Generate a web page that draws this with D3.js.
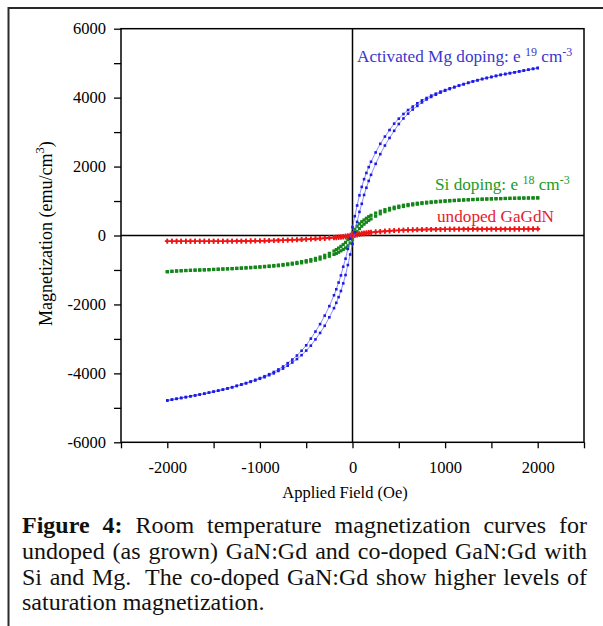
<!DOCTYPE html>
<html>
<head>
<meta charset="utf-8">
<script src="https://cdn.jsdelivr.net/npm/d3@7/dist/d3.min.js"></script>
<style>
  html, body { margin: 0; padding: 0; background: #fff; }
  svg { display: block; }
  svg text { font-family: "Liberation Serif", "Times New Roman", Times, serif; }
</style>
</head>
<body>
<svg id="chart" width="603" height="626"></svg>
<script>
// Applied field (Oe) at which each point was measured
const fieldOe = [
  -2000,-1950,-1900,-1850,-1800,-1750,-1700,-1650,-1600,-1550,
  -1500,-1450,-1400,-1350,-1300,-1250,-1200,-1150,-1100,-1050,
  -1000,-950,-900,-850,-800,-750,-700,-650,-600,-550,
  -500,-450,-400,-350,-300,-250,-200,
  -175,-150,-125,-100,-75,-50,-25,0,25,50,75,100,125,150,175,
  200,250,300,350,400,450,500,550,600,650,
  700,750,800,850,900,950,1000,1050,1100,1150,
  1200,1250,1300,1350,1400,1450,1500,1550,1600,1650,
  1700,1750,1800,1850,1900,1950,2000
];

// Activated Mg doping, decreasing-field and increasing-field branches (emu/cm3)
const mgDown = [
  -4787,-4762,-4738,-4713,-4689,-4664,-4639,-4615,-4590,-4560,
  -4529,-4499,-4470,-4435,-4400,-4360,-4319,-4280,-4234,-4186,
  -4137,-4083,-4024,-3960,-3886,-3802,-3704,-3600,-3482,-3344,
  -3186,-2992,-2788,-2571,-2325,-2049,-1734,
  -1560,-1365,-1158,-906,-673,-389,-94,245,560,870,1165,1410,1634,1815,1984,
  2140,2410,2660,2870,3060,3245,3390,3525,3640,3740,
  3835,3920,3990,4060,4115,4175,4220,4270,4312,4355,
  4395,4434,4473,4508,4542,4572,4602,4630,4660,4685,
  4710,4735,4760,4785,4810,4835,4860
];
const mgUp = [
  -4787,-4762,-4738,-4713,-4689,-4664,-4639,-4615,-4590,-4560,
  -4533,-4503,-4474,-4440,-4406,-4367,-4329,-4290,-4247,-4206,
  -4157,-4112,-4053,-3999,-3930,-3861,-3777,-3684,-3585,-3472,
  -3339,-3196,-3014,-2827,-2620,-2374,-2108,
  -1954,-1788,-1610,-1389,-1147,-857,-551,-245,95,395,685,920,1176,1385,1584,
  1760,2080,2360,2610,2830,3038,3235,3395,3535,3655,
  3760,3860,3945,4020,4085,4145,4200,4250,4298,4345,
  4385,4426,4467,4502,4538,4568,4598,4630,4660,4685,
  4710,4735,4760,4785,4810,4835,4860
];

// Si doping branches (emu/cm3)
const siDown = [
  -1050,-1040,-1030,-1022,-1016,-1011,-1006,-1001,-996,-991,
  -984,-978,-971,-965,-958,-951,-943,-935,-926,-917,
  -907,-896,-884,-871,-857,-841,-823,-803,-781,-757,
  -730,-699,-664,-625,-575,-518,-450,
  -410,-365,-315,-260,-200,-120,-30,80,180,270,340,400,450,500,545,
  585,650,705,750,788,822,852,878,900,920,
  937,952,965,977,988,998,1007,1015,1022,1029,
  1035,1041,1047,1052,1057,1061,1065,1069,1072,1075,
  1078,1081,1084,1086,1088,1090,1092
];
const siUp = [
  -1050,-1040,-1030,-1022,-1016,-1011,-1006,-1001,-996,-991,
  -986,-980,-975,-969,-964,-957,-951,-943,-936,-927,
  -919,-910,-900,-889,-877,-863,-847,-831,-813,-793,
  -770,-745,-716,-685,-645,-602,-550,
  -520,-485,-445,-405,-360,-300,-220,-120,0,110,200,270,330,385,435,
  480,560,630,690,738,778,812,842,866,888,
  908,926,942,956,969,981,992,1002,1011,1019,
  1027,1034,1040,1046,1051,1056,1061,1066,1070,1074,
  1078,1081,1084,1086,1088,1090,1092
];

// Undoped GaGdN branches (emu/cm3)
const undopedDown = [
  -165,-165,-166,-166,-166,-167,-167,-167,-167,-167,
  -167,-166,-166,-165,-165,-164,-163,-162,-160,-158,
  -156,-153,-150,-147,-143,-139,-133,-128,-121,-115,
  -107,-100,-92,-83,-74,-64,-53,
  -47,-40,-33,-25,-15,-4,10,25,36,46,56,65,74,82,90,
  97,110,121,131,139,146,153,158,163,166,
  170,172,175,177,179,180,181,182,183,183,
  184,184,185,185,185,186,186,186,187,187,
  187,188,188,188,189,189,190
];
const undopedUp = [
  -165,-165,-166,-166,-166,-167,-167,-167,-167,-167,
  -167,-166,-166,-165,-165,-164,-163,-162,-160,-158,
  -156,-153,-150,-147,-143,-139,-135,-130,-125,-119,
  -113,-106,-100,-93,-86,-78,-69,
  -65,-60,-55,-49,-43,-36,-26,-15,0,14,28,41,52,62,72,
  81,96,109,121,131,140,147,154,159,164,
  168,172,175,177,179,180,181,182,183,183,
  184,184,185,185,185,186,186,186,187,187,
  187,188,188,188,189,189,190
];

// Axis ticks
const xTicks = [-2500,-2000,-1500,-1000,-500,0,500,1000,1500,2000,2500];
const xTickLabels = ["", "-2000", "", "-1000", "", "0", "", "1000", "", "2000", ""];
const yTicks = [-6000,-5000,-4000,-3000,-2000,-1000,0,1000,2000,3000,4000,5000,6000];
const yTickLabels = ["-6000","","-4000","","-2000","","0","","2000","","4000","","6000"];

const xTitle = "Applied Field (Oe)";
const yTitle = ["Magnetization (emu/cm", "3", ")"];

const captionLines = [
  "Figure 4: Room temperature magnetization curves for",
  "undoped (as grown) GaN:Gd and co-doped GaN:Gd with",
  "Si and Mg.  The co-doped GaN:Gd show higher levels of",
  "saturation magnetization."
];
const captionBoldWords = 2;

const svg = d3.select("#chart");
svg.append("rect").attr("width", 603).attr("height", 626).attr("fill", "#fff");

// outer frame of the figure box
svg.append("rect")
  .attr("x", 8.5).attr("y", 8)
  .attr("width", 640).attr("height", 700)
  .attr("fill", "none").attr("stroke", "#2a2a2a").attr("stroke-width", 2);

const plot = { left: 121, right: 584, top: 28.7, bottom: 442.3 };
const x = d3.scaleLinear().domain([-2500, 2500]).range([plot.left, plot.right]);
const y = d3.scaleLinear().domain([-6000, 6000]).range([plot.bottom, plot.top]);

// axes
const xAxis = svg.append("g")
  .attr("transform", `translate(0,${plot.bottom})`)
  .call(d3.axisBottom(x).tickValues(xTicks)
    .tickFormat((d, i) => xTickLabels[i]).tickSize(6));
xAxis.attr("font-family", null).attr("font-size", null);
xAxis.select(".domain").remove();
xAxis.selectAll("line").attr("stroke", "#000").attr("stroke-width", 1.3);
xAxis.selectAll("text")
  .attr("y", 31).attr("dy", 0)
  .style("font-size", "16.5px").attr("fill", "#000");

const yAxis = svg.append("g")
  .attr("transform", `translate(${plot.left},0)`)
  .call(d3.axisLeft(y).tickValues(yTicks)
    .tickFormat((d, i) => yTickLabels[i]).tickSize(7).tickPadding(8));
yAxis.attr("font-family", null).attr("font-size", null);
yAxis.select(".domain").remove();
yAxis.selectAll("line").attr("stroke", "#000").attr("stroke-width", 1.3);
yAxis.selectAll("text")
  .style("font-size", "16.5px").attr("fill", "#000");

// plot frame and zero lines
svg.append("rect")
  .attr("x", plot.left).attr("y", plot.top)
  .attr("width", plot.right - plot.left).attr("height", plot.bottom - plot.top)
  .attr("fill", "none").attr("stroke", "#000").attr("stroke-width", 1.5);
svg.append("line")
  .attr("x1", x(0)).attr("x2", x(0)).attr("y1", plot.top).attr("y2", plot.bottom)
  .attr("stroke", "#000").attr("stroke-width", 1.5);
svg.append("line")
  .attr("x1", plot.left).attr("x2", plot.right).attr("y1", y(0)).attr("y2", y(0))
  .attr("stroke", "#000").attr("stroke-width", 1.5);

// series
const branches = (a, b) => [a, b].map(vals => fieldOe.map((h, i) => ({ h, m: vals[i] })));
const series = [
  { name: "si", data: branches(siDown, siUp), color: "#14861a", marker: "square", size: 3.2, line: false },
  { name: "undoped", data: branches(undopedDown, undopedUp), color: "#f01414", marker: "cross", size: 13, line: false },
  { name: "mg", data: branches(mgDown, mgUp), color: "#1c1ce6", marker: "square", size: 2.6, line: true }
];

const lineGen = d3.line().x(d => x(d.h)).y(d => y(d.m));

series.forEach(s => {
  const g = svg.append("g").attr("class", "series-" + s.name);
  s.data.forEach(branch => {
    if (s.line) {
      g.append("path").datum(branch)
        .attr("d", lineGen)
        .attr("fill", "none").attr("stroke", "#5c5cff").attr("stroke-width", 0.7);
    }
    if (s.marker === "square") {
      g.selectAll(null).data(branch).enter().append("rect")
        .attr("x", d => x(d.h) - s.size / 2)
        .attr("y", d => y(d.m) - s.size / 2)
        .attr("width", s.size).attr("height", s.size)
        .attr("fill", s.color);
    } else {
      const sym = d3.symbol().type(d3.symbolCross).size(s.size);
      g.selectAll(null).data(branch).enter().append("path")
        .attr("d", sym)
        .attr("transform", d => `translate(${x(d.h)},${y(d.m)})`)
        .attr("fill", s.color);
    }
  });
});

// series labels
function seriesLabel(xPos, yPos, color, parts) {
  const t = svg.append("text")
    .attr("x", xPos).attr("y", yPos)
    .style("font-size", "17.2px").attr("fill", color);
  parts.forEach(p => {
    const ts = t.append("tspan").text(p.t);
    if (p.sup) ts.style("font-size", "12px").attr("baseline-shift", "6");
  });
}
seriesLabel(357, 62, "#3a36cc", [
  { t: "Activated Mg doping: e " }, { t: "19", sup: true }, { t: " cm" }, { t: "-3", sup: true }
]);
seriesLabel(435, 190, "#239a23", [
  { t: "Si doping: e " }, { t: "18", sup: true }, { t: " cm" }, { t: "-3", sup: true }
]);
seriesLabel(437, 221.5, "#e8202c", [{ t: "undoped GaGdN" }]);

// axis titles
svg.append("text")
  .attr("x", 345).attr("y", 498)
  .attr("text-anchor", "middle")
  .style("font-size", "16.5px").attr("fill", "#000")
  .text(xTitle);

const yt = svg.append("text")
  .attr("transform", "translate(52,326) rotate(-90)")
  .style("font-size", "18px").attr("fill", "#000");
yt.append("tspan").text(yTitle[0]);
yt.append("tspan").text(yTitle[1]).style("font-size", "12.5px").attr("baseline-shift", "8");
yt.append("tspan").text(yTitle[2]);

// caption, justified between the margins except on its last line
const cap = { left: 22, right: 587, top: 533, lead: 25.8, size: 24 };
const measure = svg.append("text").style("font-size", cap.size + "px")
  .attr("visibility", "hidden");
function widthOf(str, bold) {
  measure.style("font-weight", bold ? "bold" : "normal").text(str);
  return measure.node().getComputedTextLength();
}
const spaceW = widthOf("a a", false) - widthOf("aa", false);

captionLines.forEach((line, li) => {
  const tokens = line.split(" ");
  const words = [];
  let pendingExtra = 0;
  tokens.forEach(tok => {
    if (tok === "") { pendingExtra += spaceW; return; }
    const bold = li === 0 && words.length < captionBoldWords;
    words.push({ t: tok, bold, w: widthOf(tok, bold), extra: pendingExtra });
    pendingExtra = 0;
  });
  const last = li === captionLines.length - 1;
  const textW = d3.sum(words, w => w.w) + d3.sum(words, w => w.extra);
  const gap = last ? spaceW : (cap.right - cap.left - textW) / (words.length - 1);
  let cx = cap.left;
  const yPos = cap.top + li * cap.lead;
  words.forEach((w, wi) => {
    if (wi > 0) cx += gap + w.extra;
    svg.append("text")
      .attr("x", cx).attr("y", yPos)
      .style("font-size", cap.size + "px")
      .style("font-weight", w.bold ? "bold" : "normal")
      .attr("fill", "#111")
      .text(w.t);
    cx += w.w;
  });
});
measure.remove();
</script>
</body>
</html>
